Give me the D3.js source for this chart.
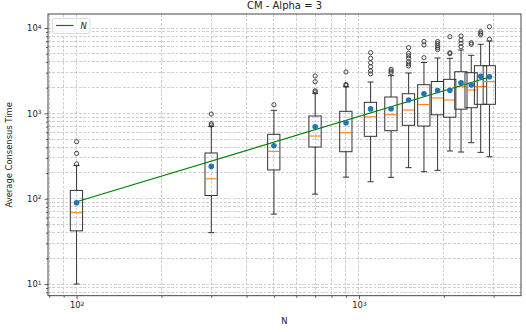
<!DOCTYPE html>
<html>
<head>
<meta charset="utf-8">
<script src="https://cdn.jsdelivr.net/npm/d3@7"></script>
<style>
  body { margin: 0; background: #fff; }
  svg { display: block; font-family: "DejaVu Sans", sans-serif; }
</style>
</head>
<body>
<svg id="chart" width="526" height="332"></svg>
<script>
// Network sizes (box positions)
const sizes = [100, 300, 500, 700, 900, 1100, 1300, 1500, 1700, 1900, 2100, 2300, 2500, 2700, 2900];

// Box statistics of the consensus time per network size
const whiskerLow  = [10, 40, 66, 113, 179, 158, 178, 231, 207, 215, 362, 352, 453, 349, 310];
const quartile1   = [42, 109, 217, 403, 355, 538, 626, 724, 710, 961, 901, 1118, 1164, 1276, 1276];
const medians     = [68.5, 171, 359, 542, 593, 910, 964, 1094, 1269, 1512, 1432, 2051, 1877, 2063, 2349];
const quartile3   = [125, 343, 568, 931, 1056, 1346, 1554, 1698, 2165, 2360, 2504, 3075, 2994, 3615, 3615];
const whiskerHigh = [245, 700, 1084, 1717, 2050, 2330, 2762, 2969, 3942, 4450, 4414, 5520, 4788, 6441, 7041];
const means       = [89.7, 239, 418, 697, 776, 1128, 1133, 1432, 1694, 1851, 1862, 2279, 2148, 2723, 2687];
const outliers = [
  [255, 340, 465],
  [730, 756, 981],
  [1262],
  [1780, 1841, 2350, 2738],
  [2130, 2180, 3050],
  [2900, 3134, 3520, 3918, 4416, 5134],
  [2993, 3134, 3281],
  [3587, 3786, 4027, 4413, 4733, 5051, 5877],
  [4487, 6322, 6950],
  [5600, 5877, 6202, 6583, 6950],
  [5000, 5134, 7907],
  [6038, 6618, 7229, 8056],
  [6440, 6724],
  [8280, 8664, 9049],
  [7372, 10357]
];

// Linear reference line (proportional to N)
const refN     = [100, 2900];
const refValue = [92, 2668];
const legendLabels = ["N"];

const xMajorTicks = [100, 1000];
const yMajorTicks = [10, 100, 1000, 10000];
const xTickExp = { 100: "2", 1000: "3" };
const yTickExp = { 10: "1", 100: "2", 1000: "3", 10000: "4" };

const titleText = "CM - Alpha = 3";
const xLabelText = "N";
const yLabelText = "Average Consensus Time";

// ---- layout ----
const plot = { left: 48, right: 521, top: 14, bottom: 295.7 };
const svg = d3.select("#chart");

const x = d3.scaleLog().domain([79.2, 3751]).range([plot.left, plot.right]);
const y = d3.scaleLog().domain([7.3, 14590]).range([plot.bottom, plot.top]);

const xAll = x.ticks().filter(v => v >= x.domain()[0] && v <= x.domain()[1]);
const yAll = y.ticks().filter(v => v >= y.domain()[0] && v <= y.domain()[1]);
const xMinor = xAll.filter(v => !xMajorTicks.includes(v));
const yMinor = yAll.filter(v => !yMajorTicks.includes(v));

const ink = "#333";
const fontSize = 8.4;

// grid (major and minor)
const grid = svg.append("g").attr("class", "grid");
grid.selectAll("line.gx").data(xAll).join("line")
  .attr("class", "gx")
  .attr("x1", d => x(d)).attr("x2", d => x(d))
  .attr("y1", plot.top).attr("y2", plot.bottom);
grid.selectAll("line.gy").data(yAll).join("line")
  .attr("class", "gy")
  .attr("x1", plot.left).attr("x2", plot.right)
  .attr("y1", d => y(d)).attr("y2", d => y(d));
grid.selectAll("line")
  .attr("stroke", "#c4c4c4")
  .attr("stroke-width", 0.8)
  .attr("stroke-dasharray", "2.8,1.6")
  .attr("shape-rendering", "crispEdges");

// axes
function superscriptLabels(sel, exps) {
  sel.selectAll(".tick text").each(function(d) {
    const t = d3.select(this);
    t.text(null);
    t.append("tspan").text("10");
    t.append("tspan").attr("dy", "-0.45em").attr("font-size", "70%").text(exps[d]);
  });
}

const xAxis = svg.append("g").attr("transform", `translate(0,${plot.bottom})`)
  .call(d3.axisBottom(x).tickValues(xMajorTicks).tickSize(3.5).tickPadding(3).tickFormat(() => ""));
superscriptLabels(xAxis, xTickExp);
const xAxisMinor = svg.append("g").attr("transform", `translate(0,${plot.bottom})`)
  .call(d3.axisBottom(x).tickValues(xMinor).tickSize(2).tickFormat(() => ""));

const yAxis = svg.append("g").attr("transform", `translate(${plot.left},0)`)
  .call(d3.axisLeft(y).tickValues(yMajorTicks).tickSize(3.5).tickPadding(3).tickFormat(() => ""));
superscriptLabels(yAxis, yTickExp);
const yAxisMinor = svg.append("g").attr("transform", `translate(${plot.left},0)`)
  .call(d3.axisLeft(y).tickValues(yMinor).tickSize(2).tickFormat(() => ""));

[xAxis, xAxisMinor, yAxis, yAxisMinor].forEach(a => {
  a.select(".domain").remove();
  a.selectAll(".tick line").attr("stroke", ink).attr("stroke-width", 0.8);
  a.selectAll(".tick text").attr("fill", "#222").attr("font-size", fontSize)
    .attr("font-family", "DejaVu Sans");
});

// boxes
const boxHalf = 0.05;   // box spans N*(1 ± 0.05)
const capHalf = 0.025;
const stats = sizes.map((n, i) => ({
  n, lo: whiskerLow[i], q1: quartile1[i], med: medians[i], q3: quartile3[i],
  hi: whiskerHigh[i], mean: means[i], fliers: outliers[i]
}));

const boxes = svg.append("g").selectAll("g.box").data(stats).join("g").attr("class", "box");
boxes.append("rect")
  .attr("x", d => x(d.n * (1 - boxHalf)))
  .attr("width", d => x(d.n * (1 + boxHalf)) - x(d.n * (1 - boxHalf)))
  .attr("y", d => y(d.q3))
  .attr("height", d => y(d.q1) - y(d.q3))
  .attr("fill", "none").attr("stroke", ink).attr("stroke-width", 1);
boxes.append("line")  // lower whisker
  .attr("x1", d => x(d.n)).attr("x2", d => x(d.n))
  .attr("y1", d => y(d.q1)).attr("y2", d => y(d.lo));
boxes.append("line")  // upper whisker
  .attr("x1", d => x(d.n)).attr("x2", d => x(d.n))
  .attr("y1", d => y(d.q3)).attr("y2", d => y(d.hi));
boxes.append("line")  // lower cap
  .attr("x1", d => x(d.n * (1 - capHalf))).attr("x2", d => x(d.n * (1 + capHalf)))
  .attr("y1", d => y(d.lo)).attr("y2", d => y(d.lo));
boxes.append("line")  // upper cap
  .attr("x1", d => x(d.n * (1 - capHalf))).attr("x2", d => x(d.n * (1 + capHalf)))
  .attr("y1", d => y(d.hi)).attr("y2", d => y(d.hi));
boxes.selectAll("line").attr("stroke", ink).attr("stroke-width", 1);
boxes.append("line")  // median
  .attr("x1", d => x(d.n * (1 - boxHalf)) + 0.5).attr("x2", d => x(d.n * (1 + boxHalf)) - 0.5)
  .attr("y1", d => y(d.med)).attr("y2", d => y(d.med))
  .attr("stroke", "#ff7f0e").attr("stroke-width", 1.1);
boxes.selectAll("circle.flier").data(d => d.fliers.map(v => ({ n: d.n, v }))).join("circle")
  .attr("class", "flier")
  .attr("cx", d => x(d.n)).attr("cy", d => y(d.v)).attr("r", 2.1)
  .attr("fill", "none").attr("stroke", ink).attr("stroke-width", 0.9);

// reference line
svg.append("path")
  .datum(refN.map((n, i) => [n, refValue[i]]))
  .attr("d", d3.line().x(d => x(d[0])).y(d => y(d[1])))
  .attr("fill", "none").attr("stroke", "#008000").attr("stroke-width", 1.2);

// means
svg.append("g").selectAll("circle").data(stats).join("circle")
  .attr("cx", d => x(d.n)).attr("cy", d => y(d.mean)).attr("r", 2.8)
  .attr("fill", "#1f77b4");

// frame
svg.append("rect")
  .attr("x", plot.left).attr("y", plot.top)
  .attr("width", plot.right - plot.left).attr("height", plot.bottom - plot.top)
  .attr("fill", "none").attr("stroke", ink).attr("stroke-width", 0.9);

// legend
const legend = svg.append("g").attr("transform", "translate(52.5,18.5)");
legend.append("rect").attr("width", 37.5).attr("height", 15).attr("rx", 2)
  .attr("fill", "rgba(255,255,255,0.8)").attr("stroke", "#d0d0d0").attr("stroke-width", 0.8);
legendLabels.forEach((lab, i) => {
  legend.append("line").attr("x1", 3.5).attr("x2", 21).attr("y1", 7 + i * 12).attr("y2", 7 + i * 12)
    .attr("stroke", "#008000").attr("stroke-width", 1.2);
  legend.append("text").attr("x", 28).attr("y", 10 + i * 12)
    .attr("font-size", fontSize).attr("font-style", "italic").attr("fill", "#222").text(lab);
});

// title and axis labels
svg.append("text").attr("x", (plot.left + plot.right) / 2).attr("y", 9.2)
  .attr("text-anchor", "middle").attr("font-size", 10).attr("fill", "#222").text(titleText);
svg.append("text").attr("x", (plot.left + plot.right) / 2).attr("y", 324)
  .attr("text-anchor", "middle").attr("font-size", fontSize).attr("fill", "#222").text(xLabelText);
svg.append("text")
  .attr("transform", `translate(12,${(plot.top + plot.bottom) / 2}) rotate(-90)`)
  .attr("text-anchor", "middle").attr("font-size", fontSize).attr("fill", "#222").text(yLabelText);
</script>
</body>
</html>
